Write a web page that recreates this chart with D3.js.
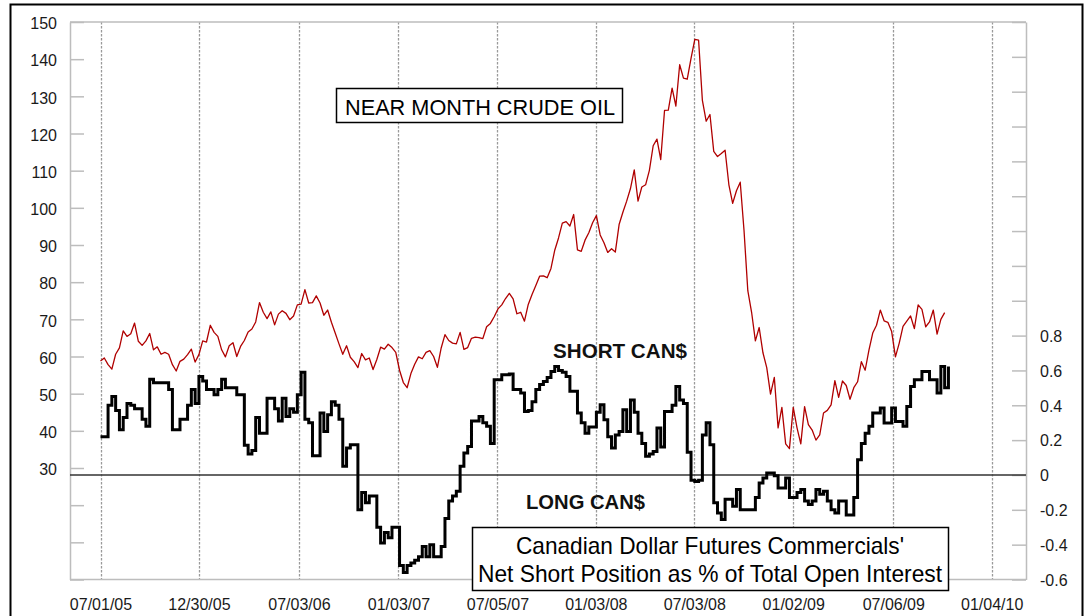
<!DOCTYPE html>
<html>
<head>
<meta charset="utf-8">
<script src="https://cdn.jsdelivr.net/npm/d3@7"></script>
<style>
  html, body { margin: 0; padding: 0; background: #fff; }
  svg { display: block; }
  text { font-family: "Liberation Sans", Arial, sans-serif; }
</style>
</head>
<body>
<svg id="chart" width="1091" height="616"></svg>
<script>
// ---------------- DATA ----------------
const firstWeek = "07/01/05"; // weekly observations start here (7-day steps)

// Near month crude oil, weekly, $/bbl (left axis)
const crudeOil = [
  // 2005
  58.8, 59.6, 57.8, 56.6, 60.6, 62.3, 66.9, 65.4, 66.1, 69.0, 64.1, 63.0, 64.2, 66.2,
  61.8, 62.6, 60.6, 61.1, 60.6, 57.8, 56.1, 58.7, 59.3, 60.5, 62.0, 58.5, 60.5,
  // 2006
  64.2, 63.9, 68.4, 66.5, 65.4, 61.8, 59.9, 62.9, 63.7, 60.0, 62.7, 64.3, 66.6,
  67.4, 69.3, 74.5, 71.9, 70.2, 72.0, 68.5, 71.4, 72.3, 71.6, 69.9, 70.9, 73.9,
  74.1, 78.0, 74.4, 74.5, 76.3, 74.4, 71.1, 72.5, 69.2, 66.3, 63.4, 60.6, 62.9,
  59.8, 58.6, 57.0, 60.8, 59.1, 59.6, 56.5, 59.2, 62.5, 62.0, 63.3, 62.4, 61.1,
  // 2007
  56.3, 53.0, 51.6, 55.4, 57.9, 59.9, 59.4, 61.1, 61.6, 60.0, 57.1, 62.3, 65.9,
  64.3, 63.6, 63.4, 66.5, 61.9, 62.4, 64.9, 65.2, 65.1, 64.8, 68.0, 68.9, 70.7,
  72.8, 73.9, 75.6, 77.0, 75.5, 71.5, 71.9, 69.5, 74.0, 76.7, 79.1, 81.6, 81.7,
  81.2, 83.7, 88.6, 91.9, 95.9, 96.3, 95.1, 98.2, 88.7, 88.3, 91.3, 93.3, 96.0,
  // 2008
  97.9, 92.7, 90.6, 88.0, 89.0, 88.1, 95.5, 98.8, 101.8, 105.2, 110.2, 101.8, 105.6,
  106.2, 110.1, 116.7, 118.5, 113.0, 126.2, 126.3, 132.2, 127.4, 138.5, 134.9, 134.6,
  140.2, 145.3, 145.1, 128.9, 123.3, 125.1, 115.2, 113.8, 114.6, 115.5, 106.2, 101.2,
  104.6, 106.9, 93.9, 77.7, 71.9, 64.2, 67.8, 61.0, 57.0, 49.9, 54.4, 40.8, 46.3,
  36.5, 35.2,
  // 2009
  46.3, 40.8, 36.5, 46.5, 41.7, 40.2, 37.5, 38.9, 44.8, 45.5, 47.0, 53.5, 49.0,
  53.4, 52.2, 48.5, 51.6, 53.2, 58.6, 56.3, 61.7, 66.3, 68.4, 72.5, 69.6, 69.2,
  66.7, 59.9, 63.6, 68.1, 69.5, 70.9, 67.5, 73.9, 72.7, 68.0, 69.3, 72.5, 66.0,
  70.0, 71.8
];

// Canadian dollar futures commercials net short as fraction of open interest, weekly (right axis)
const netShortCAD = [
  0.22, 0.22, 0.40, 0.45, 0.37, 0.26, 0.33, 0.41, 0.40, 0.38,
  0.38, 0.32, 0.28, 0.55, 0.53, 0.53, 0.53, 0.53, 0.49, 0.26,
  0.26, 0.32, 0.32, 0.40, 0.49, 0.41, 0.565, 0.54, 0.49, 0.49,
  0.46, 0.49, 0.55, 0.50, 0.50, 0.50, 0.46, 0.46, 0.17, 0.12,
  0.14, 0.33, 0.24, 0.24, 0.44, 0.44, 0.38, 0.31, 0.44, 0.335,
  0.38, 0.36, 0.46, 0.59, 0.32, 0.30, 0.11, 0.11, 0.355, 0.25,
  0.345, 0.42, 0.40, 0.32, 0.05, 0.155, 0.174, 0.174, -0.2, -0.10,
  -0.16, -0.12, -0.12, -0.30, -0.39, -0.33, -0.36, -0.30, -0.30, -0.52,
  -0.56, -0.52, -0.506, -0.49, -0.47, -0.41, -0.47, -0.40, -0.47, -0.47,
  -0.41, -0.25, -0.15, -0.12, -0.094, 0.05, 0.126, 0.164, 0.31, 0.31,
  0.336, 0.30, 0.28, 0.18, 0.546, 0.546, 0.575, 0.575, 0.58, 0.49,
  0.49, 0.47, 0.365, 0.37, 0.42, 0.49, 0.52, 0.537, 0.56, 0.594,
  0.623, 0.60, 0.59, 0.565, 0.48, 0.48, 0.355, 0.30, 0.24, 0.275,
  0.275, 0.36, 0.403, 0.317, 0.22, 0.155, 0.23, 0.25, 0.374, 0.25,
  0.43, 0.36, 0.24, 0.18, 0.107, 0.12, 0.135, 0.27, 0.16, 0.365,
  0.365, 0.40, 0.508, 0.43, 0.41, 0.13, -0.03, -0.037, -0.03, 0.23,
  0.30, 0.174, -0.16, -0.218, -0.256, -0.14, -0.14, -0.18, -0.084, -0.2,
  -0.2, -0.2, -0.2, -0.13, -0.046, -0.017, 0.011, 0.011, -0.005, -0.075,
  -0.075, -0.017, -0.13, -0.13, -0.10, -0.084, -0.15, -0.17, -0.15, -0.084,
  -0.11, -0.094, -0.15, -0.2, -0.218, -0.15, -0.15, -0.23, -0.23, -0.13,
  0.088, 0.18, 0.24, 0.28, 0.355, 0.355, 0.384, 0.298, 0.298, 0.384,
  0.307, 0.307, 0.28, 0.393, 0.508, 0.546, 0.546, 0.594, 0.594, 0.546,
  0.546, 0.47, 0.623, 0.50, 0.623
];

const xTickLabels = ["07/01/05", "12/30/05", "07/03/06", "01/03/07", "07/05/07",
                     "01/03/08", "07/03/08", "01/02/09", "07/06/09", "01/04/10"];
const leftTicks = [0, 10, 20, 30, 40, 50, 60, 70, 80, 90, 100, 110, 120, 130, 140, 150];
const leftLabelMin = 30;
const rightTicks = [-0.6, -0.4, -0.2, 0, 0.2, 0.4, 0.6, 0.8, 1.0, 1.2, 1.4, 1.6, 1.8, 2.0, 2.2, 2.4, 2.6];
const rightLabelMax = 0.8;

const crudeTitle = "NEAR MONTH CRUDE OIL";
const shortLabel = "SHORT CAN$";
const longLabel = "LONG CAN$";
const legendLines = ["Canadian Dollar Futures Commercials'",
                     "Net Short Position as % of Total Open Interest"];

// ---------------- LAYOUT ----------------
const L = 70, R = 1026, T = 22, B = 579.5;
const parse = d3.timeParse("%m/%d/%y");
const tickDates = xTickLabels.map(parse);
const start = parse(firstWeek);
const weekDate = i => d3.timeDay.offset(start, 7 * i);

const x = d3.scaleTime().domain([tickDates[0], tickDates[tickDates.length - 1]]).range([100.5, 991.7]);
const yL = d3.scaleLinear().domain([0, 150]).range([B, T]);
const yR = d3.scaleLinear().domain([-0.6, 2.6]).range([B, T]);

const svg = d3.select("#chart");
const FONT = '"Liberation Sans", Arial, sans-serif';
const GRAY = "#bdbdbd";

svg.append("rect").attr("x", 0).attr("y", 0).attr("width", 1091).attr("height", 616).attr("fill", "#fff");
// outer frame
svg.append("rect").attr("x", 10.5).attr("y", 4.5).attr("width", 1072).attr("height", 640)
  .attr("fill", "none").attr("stroke", "#000").attr("stroke-width", 2);

// vertical dashed gridlines
svg.append("g").selectAll("line").data(tickDates).join("line")
  .attr("x1", d => Math.round(x(d)) + 0.5).attr("x2", d => Math.round(x(d)) + 0.5)
  .attr("y1", T).attr("y2", B)
  .attr("stroke", "#9a9a9a").attr("stroke-width", 1.3).attr("stroke-dasharray", "2.5,1.5");

// top border
svg.append("line").attr("x1", L).attr("x2", R).attr("y1", T).attr("y2", T)
  .attr("stroke", GRAY).attr("stroke-width", 1.5);

// left axis
const gL = svg.append("g").attr("transform", `translate(${L},0)`)
  .call(d3.axisLeft(yL).tickValues(leftTicks).tickSizeInner(-14).tickSizeOuter(0).tickPadding(13)
    .tickFormat(d => d >= leftLabelMin ? String(d) : ""));
// right axis (hyphen minus like the original)
const fmtR = d => d > rightLabelMax + 1e-9 ? "" :
  (Math.abs(d) < 1e-9 ? "0" : (d < 0 ? "-" : "") + Math.abs(d).toFixed(1));
const gR = svg.append("g").attr("transform", `translate(${R},0)`)
  .call(d3.axisRight(yR).tickValues(rightTicks).tickSizeInner(-14).tickSizeOuter(0).tickPadding(14)
    .tickFormat(fmtR));
// bottom axis
const gB = svg.append("g").attr("transform", `translate(0,${B})`)
  .call(d3.axisBottom(x).tickValues(tickDates).tickSize(0).tickPadding(19)
    .tickFormat((d, i) => xTickLabels[i]));
gB.select(".domain").attr("d", `M${L},0H${R}`);

[gL, gR, gB].forEach(g => {
  g.select(".domain").attr("stroke", GRAY).attr("stroke-width", 1.5);
  g.selectAll(".tick line").attr("stroke", GRAY).attr("stroke-width", 1.5);
  g.selectAll(".tick text").attr("font-family", FONT).attr("font-size", 16).attr("fill", "#1a1a1a");
});
gL.selectAll(".tick text").attr("dy", "0.42em");
gR.selectAll(".tick text").attr("dy", "0.36em");

// zero line of the right axis
svg.append("line").attr("x1", L).attr("x2", R).attr("y1", yR(0)).attr("y2", yR(0))
  .attr("stroke", "#333").attr("stroke-width", 1.5);

// crude oil line
const crudeLine = d3.line().x((d, i) => x(weekDate(i))).y(d => yL(d));
svg.append("path").datum(crudeOil).attr("d", crudeLine)
  .attr("fill", "none").attr("stroke", "#b00000").attr("stroke-width", 1.3).attr("stroke-linejoin", "round");

// net short line (weekly steps)
const cadLine = d3.line().x((d, i) => x(weekDate(i))).y(d => yR(d)).curve(d3.curveStepAfter);
svg.append("path").datum(netShortCAD).attr("d", cadLine)
  .attr("fill", "none").attr("stroke", "#000").attr("stroke-width", 3).attr("stroke-linejoin", "miter");

// labels
svg.append("text").attr("x", 620).attr("y", 358).attr("text-anchor", "middle")
  .attr("font-family", FONT).attr("font-weight", "bold").attr("font-size", 20)
  .attr("textLength", 134).attr("lengthAdjust", "spacingAndGlyphs").attr("fill", "#111").text(shortLabel);
svg.append("text").attr("x", 585.5).attr("y", 509).attr("text-anchor", "middle")
  .attr("font-family", FONT).attr("font-weight", "bold").attr("font-size", 20)
  .attr("textLength", 119).attr("lengthAdjust", "spacingAndGlyphs").attr("fill", "#111").text(longLabel);

// crude title box
svg.append("rect").attr("x", 336.5).attr("y", 88.5).attr("width", 286).attr("height", 34)
  .attr("fill", "#fff").attr("stroke", "#000").attr("stroke-width", 1.5);
svg.append("text").attr("x", 480).attr("y", 114.5).attr("text-anchor", "middle")
  .attr("font-family", FONT).attr("font-size", 22).attr("fill", "#000")
  .attr("textLength", 270).attr("lengthAdjust", "spacingAndGlyphs").text(crudeTitle);

// legend box
svg.append("rect").attr("x", 472.5).attr("y", 527.5).attr("width", 476).attr("height", 63)
  .attr("fill", "#fff").attr("stroke", "#000").attr("stroke-width", 1.5);
const legendLens = [388, 464];
const legendBase = [554, 582];
legendLines.forEach((t, i) => {
  svg.append("text").attr("x", 710).attr("y", legendBase[i]).attr("text-anchor", "middle")
    .attr("font-family", FONT).attr("font-size", 24).attr("fill", "#000")
    .attr("textLength", legendLens[i]).attr("lengthAdjust", "spacingAndGlyphs").text(t);
});
</script>
</body>
</html>
